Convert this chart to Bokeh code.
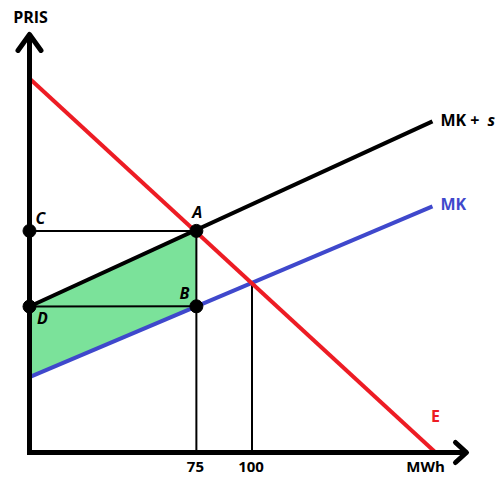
from bokeh.plotting import figure
from bokeh.models import Range1d, ColumnDataSource
from bokeh.core.properties import value
from bokeh.embed import file_html
from bokeh.resources import INLINE

# ---- data ----
tick_q = [75, 100]
tick_labels = ["75", "100"]

demand_q = [0, 182.5]          # E
demand_p = [168.1, 0]
mk_q = [0, 181.1]              # MK
mk_p = [33.9, 110.6]
mks_q = [0, 181.1]             # MK + s
mks_p = [65.6, 148.8]

pt_names = ["A", "B", "C", "D"]
pt_q = [75, 75, 0, 0]
pt_p = [99.6, 65.7, 99.6, 65.6]

eq_q = 100                     # intersection E / MK
eq_p = 76.2

area_q = [0, 75, 75, 0]
area_p = [65.6, 99.6, 65.7, 33.9]

x_axis_max = 196.4
y_axis_max = 187.9

# ---- layout ----
W, H = 497, 477
PX = 2.225                      # pixels per data unit
x0 = -29 / PX
y_top = 452 / PX
x_range = Range1d(x0, x0 + W / PX)
y_range = Range1d(y_top - H / PX, y_top)

RED = "#ED1C24"
BLUE = "#3F48CC"
GREEN = "#7BE29A"
FONT = value("Open Sans")

p = figure(width=W, height=H, x_range=x_range, y_range=y_range,
           x_axis_type=None, y_axis_type=None, toolbar_location=None,
           output_backend="svg", min_border=0, outline_line_color=None)
p.grid.visible = False
p.min_border_left = p.min_border_right = p.min_border_top = p.min_border_bottom = 0

# shaded area
p.patch(area_q, area_p, fill_color=GREEN, line_color=None)

# thin guide lines
p.line([pt_q[2], pt_q[0]], [pt_p[2], pt_p[0]], line_color="black", line_width=2)
p.line([pt_q[3], pt_q[1]], [pt_p[3], pt_p[1]], line_color="black", line_width=2)
p.line([pt_q[0], pt_q[0]], [0, pt_p[0]], line_color="black", line_width=2)
p.line([eq_q, eq_q], [0, eq_p], line_color="black", line_width=2)

# curves
p.line(mk_q, mk_p, line_color=BLUE, line_width=4)
p.line(demand_q, demand_p, line_color=RED, line_width=4)
p.line(mks_q, mks_p, line_color="black", line_width=4)

# axes with arrows
cap = 2.5 / PX
p.line([-cap, x_axis_max], [0, 0], line_color="black", line_width=5)
p.line([0, 0], [-cap, y_axis_max], line_color="black", line_width=5)
ax, ay = 11.5 / PX, 16 / PX
p.line([-ax, 0, ax], [y_axis_max - ay, y_axis_max, y_axis_max - ay],
       line_color="black", line_width=5, line_join="round", line_cap="round")
bx, by = 11 / PX, 10 / PX
p.line([x_axis_max - bx, x_axis_max, x_axis_max - bx], [by, 0, -by],
       line_color="black", line_width=5, line_join="round", line_cap="round")

# points
p.scatter(pt_q, pt_p, size=13, fill_color="black", line_color="black")

# point labels
lab = ColumnDataSource(dict(x=pt_q, y=pt_p, t=pt_names,
                            dx=[1, -12, 11, 13], dy=[-18.5, -13, -12.5, 11.5]))
p.text(x="x", y="y", text="t", x_offset="dx", y_offset="dy", source=lab,
       text_font=FONT, text_font_style="bold italic", text_font_size="16px",
       text_align="center", text_baseline="middle", text_color="black")

# tick labels
p.text(x=tick_q, y=[0, 0], text=tick_labels, x_offset=-1, y_offset=14,
       text_font=FONT, text_font_style="bold", text_font_size="15px",
       text_align="center", text_baseline="middle", text_color="black")

# axis titles
p.text(x=[0], y=[y_axis_max], text=["PRIS"], x_offset=1, y_offset=-17,
       text_font=FONT, text_font_style="bold", text_font_size="16px",
       text_align="center", text_baseline="middle", text_color="black")
p.text(x=[x_axis_max], y=[0], text=["MWh"], x_offset=-41, y_offset=13,
       text_font=FONT, text_font_style="bold", text_font_size="15px",
       text_align="center", text_baseline="middle", text_color="black")

# curve labels
p.text(x=[mks_q[1]], y=[mks_p[1]], text=["MK +"], x_offset=8, y_offset=-1.5,
       text_font=FONT, text_font_style="bold", text_font_size="16px",
       text_align="left", text_baseline="middle", text_color="black")
p.text(x=[mks_q[1]], y=[mks_p[1]], text=["s"], x_offset=55, y_offset=-1.5,
       text_font=FONT, text_font_style="bold italic", text_font_size="16px",
       text_align="left", text_baseline="middle", text_color="black")
p.text(x=[mk_q[1]], y=[mk_p[1]], text=["MK"], x_offset=8, y_offset=-2,
       text_font=FONT, text_font_style="bold", text_font_size="16px",
       text_align="left", text_baseline="middle", text_color=BLUE)
p.text(x=[demand_q[1]], y=[demand_p[1]], text=["E"], x_offset=0, y_offset=-36.5,
       text_font=FONT, text_font_style="bold", text_font_size="16px",
       text_align="center", text_baseline="middle", text_color=RED)

open("out.html", "w").write(file_html(p, INLINE))
